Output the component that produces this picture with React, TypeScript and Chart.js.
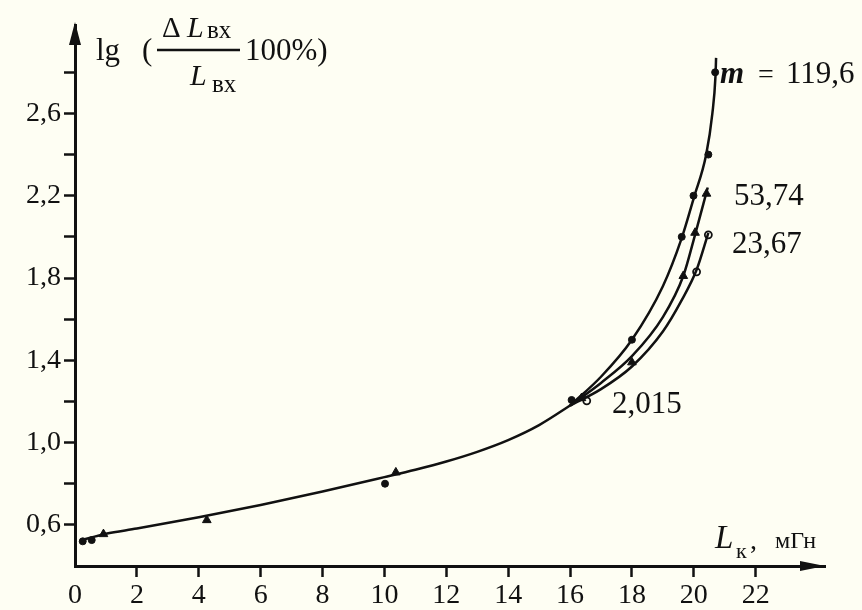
import React, { useEffect, useRef } from "react";
import { Chart, registerables } from "chart.js";

Chart.register(...registerables);

// ---- axis ticks ----
const xTicks = [0, 2, 4, 6, 8, 10, 12, 14, 16, 18, 20, 22];
const yTicks = [0.6, 0.8, 1.0, 1.2, 1.4, 1.6, 1.8, 2.0, 2.2, 2.4, 2.6, 2.8];
const yLabelled = [0.6, 1.0, 1.4, 1.8, 2.2, 2.6];

// ---- fitted curves ----
// common lower branch, labelled 2,015
const curve2015X = [0.2, 1, 2, 4, 6, 8, 10, 11, 12, 13, 14, 15, 16, 16.5];
const curve2015Y = [0.525, 0.557, 0.582, 0.637, 0.697, 0.762, 0.832, 0.868, 0.908, 0.955, 1.012, 1.085, 1.18, 1.23];

const curve1196X = [16, 17, 18, 19, 19.6, 20, 20.4, 20.6, 20.7, 20.72];
const curve1196Y = [1.18, 1.32, 1.5, 1.76, 1.99, 2.19, 2.4, 2.6, 2.78, 2.87];

const curve5374X = [16, 17, 18, 19, 19.66, 20.04, 20.45];
const curve5374Y = [1.18, 1.29, 1.42, 1.61, 1.81, 2.01, 2.24];

const curve2367X = [16, 17, 18, 19, 19.6, 20.09, 20.47];
const curve2367Y = [1.18, 1.26, 1.37, 1.54, 1.69, 1.84, 2.02];

// ---- measured points ----
const circleX = [0.25, 0.54, 10.02, 16.05, 18.0, 19.61, 19.99, 20.47, 20.69];
const circleY = [0.52, 0.526, 0.8, 1.207, 1.5, 2.0, 2.2, 2.4, 2.8];

const triangleX = [0.92, 4.26, 10.37, 16.37, 18.0, 19.66, 20.04, 20.41];
const triangleY = [0.555, 0.623, 0.855, 1.216, 1.39, 1.81, 2.02, 2.21];

const openX = [16.54, 20.09, 20.47];
const openY = [1.203, 1.83, 2.01];

const seriesLabels = ["m = 119,6", "53,74", "23,67", "2,015"];

const BG = "#fefef3";
const INK = "#111";
const SERIF = "'Liberation Serif', 'Times New Roman', serif";

const pts = (xs: number[], ys: number[]) => xs.map((x, i) => ({ x, y: ys[i] }));

const curveDs = (label: string, xs: number[], ys: number[]) => ({
  label,
  data: pts(xs, ys),
  showLine: true,
  borderColor: INK,
  borderWidth: 2.5,
  pointRadius: 0,
  cubicInterpolationMode: "monotone" as const,
});

const annotations = {
  id: "annotations",
  afterDraw(chart: any) {
    const ctx = chart.ctx as CanvasRenderingContext2D;
    const { left, top, bottom, right } = chart.chartArea;
    ctx.save();
    ctx.fillStyle = INK;
    ctx.strokeStyle = INK;
    // y axis arrow
    ctx.beginPath();
    ctx.moveTo(left, top - 3);
    ctx.lineTo(left - 6, top + 20);
    ctx.lineTo(left + 6, top + 20);
    ctx.closePath();
    ctx.fill();
    // x axis arrow
    ctx.beginPath();
    ctx.moveTo(right, bottom);
    ctx.lineTo(right - 25, bottom - 5);
    ctx.lineTo(right - 25, bottom + 5);
    ctx.closePath();
    ctx.fill();

    ctx.textBaseline = "alphabetic";
    ctx.textAlign = "left";
    const txt = (s: string, x: number, y: number, font: string) => {
      ctx.font = font;
      ctx.fillText(s, x, y);
    };
    // y-axis title: lg ( ΔL_вх / L_вх 100%)
    txt("lg", 96, 60, `31px ${SERIF}`);
    txt("(", 142, 60, `31px ${SERIF}`);
    txt("Δ", 162, 37, `29px ${SERIF}`);
    txt("L", 187, 37, `italic 30px ${SERIF}`);
    txt("вх", 207, 38, `25px ${SERIF}`);
    ctx.lineWidth = 2.5;
    ctx.beginPath();
    ctx.moveTo(157, 50);
    ctx.lineTo(240, 50);
    ctx.stroke();
    txt("L", 190, 85, `italic 30px ${SERIF}`);
    txt("вх", 212, 92, `25px ${SERIF}`);
    txt("100%)", 245, 60, `31px ${SERIF}`);

    // x-axis title: L_к, мГн
    txt("L", 715, 548, `italic 33px ${SERIF}`);
    txt("к", 736, 558, `22px ${SERIF}`);
    txt(",", 750, 549, `28px ${SERIF}`);
    txt("мГн", 775, 548, `24px ${SERIF}`);

    // series labels
    txt("m", 720, 83, `italic bold 31px ${SERIF}`);
    txt("=", 758, 83, `28px ${SERIF}`);
    txt(seriesLabels[0].replace("m = ", ""), 786, 83, `31px ${SERIF}`);
    txt(seriesLabels[1], 734, 205, `31px ${SERIF}`);
    txt(seriesLabels[2], 732, 253, `31px ${SERIF}`);
    txt(seriesLabels[3], 612, 413, `31px ${SERIF}`);
    ctx.restore();
  },
};

export default function App() {
  const ref = useRef<HTMLCanvasElement | null>(null);
  useEffect(() => {
    if (!ref.current) return;
    const tickFont = { family: SERIF, size: 28 };
    const chart = new Chart(ref.current, {
      type: "scatter",
      data: {
        datasets: [
          curveDs(seriesLabels[3], curve2015X, curve2015Y),
          curveDs(seriesLabels[0], curve1196X, curve1196Y),
          curveDs(seriesLabels[1], curve5374X, curve5374Y),
          curveDs(seriesLabels[2], curve2367X, curve2367Y),
          {
            label: "circles",
            data: pts(circleX, circleY),
            pointStyle: "circle",
            pointRadius: 3.5,
            backgroundColor: INK,
            borderColor: INK,
            borderWidth: 1,
          },
          {
            label: "triangles",
            data: pts(triangleX, triangleY),
            pointStyle: "triangle",
            pointRadius: 5,
            backgroundColor: INK,
            borderColor: INK,
            borderWidth: 1,
          },
          {
            label: "open",
            data: pts(openX, openY),
            pointStyle: "circle",
            pointRadius: 3.5,
            backgroundColor: BG,
            borderColor: INK,
            borderWidth: 1.8,
          },
        ] as any,
      },
      options: {
        responsive: false,
        devicePixelRatio: 1,
        animation: false,
        layout: { padding: { left: 0, top: 25, right: 37, bottom: 0 } },
        plugins: { legend: { display: false }, tooltip: { enabled: false } },
        scales: {
          x: {
            type: "linear",
            min: 0,
            max: 24.24,
            afterBuildTicks: (s: any) => {
              s.ticks = xTicks.map((v) => ({ value: v }));
            },
            afterFit: (s: any) => {
              s.height = 44;
            },
            grid: {
              drawOnChartArea: false,
              drawTicks: true,
              tickLength: 11,
              tickWidth: 2.5,
              tickColor: (c: any) => (c.tick && c.tick.value === 0 ? "rgba(0,0,0,0)" : INK),
            },
            border: { display: true, color: INK, width: 3 },
            ticks: {
              color: INK,
              font: tickFont,
              padding: 2,
              autoSkip: false,
              maxRotation: 0,
              callback: (v: any) => String(v),
            },
          },
          y: {
            type: "linear",
            min: 0.4,
            max: 3.03,
            afterBuildTicks: (s: any) => {
              s.ticks = yTicks.map((v) => ({ value: v }));
            },
            afterFit: (s: any) => {
              s.width = 75;
            },
            grid: {
              drawOnChartArea: false,
              drawTicks: true,
              tickLength: 11,
              tickWidth: 2.5,
              tickColor: INK,
            },
            border: { display: true, color: INK, width: 3 },
            ticks: {
              color: INK,
              font: tickFont,
              padding: 3,
              autoSkip: false,
              callback: (v: any) => {
                const r = Math.round(Number(v) * 10) / 10;
                return yLabelled.some((t) => Math.abs(t - r) < 1e-6) ? r.toFixed(1).replace(".", ",") : "";
              },
            },
          },
        },
      },
      plugins: [annotations],
    } as any);
    return () => chart.destroy();
  }, []);

  return (
    <div style={{ position: "fixed", left: 0, top: 0, width: 862, height: 610, background: BG }}>
      <canvas ref={ref} width={862} height={610} style={{ display: "block" }} />
    </div>
  );
}
